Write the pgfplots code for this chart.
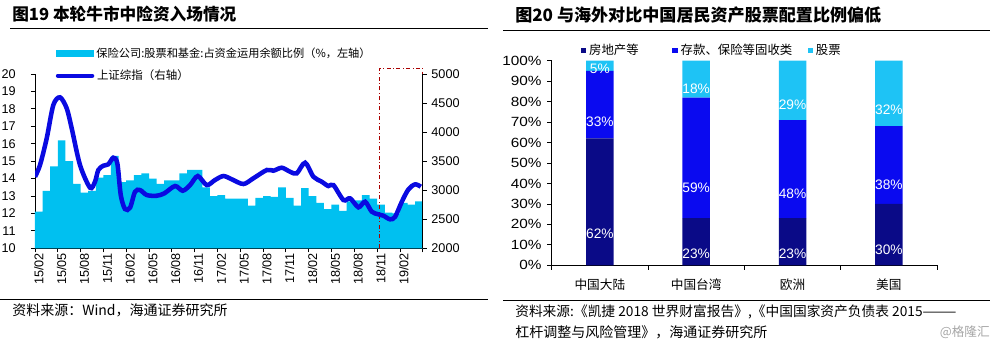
\documentclass[border=0pt]{standalone}
\usepackage{fontspec}
\setmainfont{Liberation Sans}
\newfontfamily\cjk{Noto Sans CJK SC}
\usepackage{pgfplots}
\pgfplotsset{compat=1.18}
\pgfplotsset{/pgf/number format/assume math mode=true, /pgf/number format/1000 sep={}}
\definecolor{barcyan}{RGB}{0,192,240}
\definecolor{lineblue}{RGB}{10,10,225}
\definecolor{navyb}{RGB}{10,10,135}
\definecolor{blueb}{RGB}{10,10,240}
\definecolor{cyanb}{RGB}{30,195,245}
\definecolor{dred}{RGB}{170,0,0}
\begin{document}
\begin{tikzpicture}[x=0.75pt,y=-0.75pt]
\useasboundingbox (0,0) rectangle (994,343);
% titles and rules
\node[anchor=west,inner sep=0pt] at (12,14) {\cjk\bfseries\fontsize{12.5}{14}\selectfont 图19 本轮牛市中险资入场情况};
\node[anchor=west,inner sep=0pt] at (515,15.5) {\cjk\bfseries\fontsize{12.8}{14}\selectfont 图20 与海外对比中国居民资产股票配置比例偏低};
\draw[line width=0.75pt] (10,28.3) -- (488,28.3);
\draw[line width=0.75pt] (503,30.7) -- (990,30.7);
\draw[line width=0.75pt] (0,299) -- (488,299);
\draw[line width=0.75pt] (503,300) -- (990,300);
\node[anchor=west,inner sep=0pt] at (12,310) {\cjk\fontsize{10.5}{11}\selectfont 资料来源：Wind，海通证券研究所};
\node[anchor=west,inner sep=0pt] at (515,312) {\cjk\fontsize{10.3}{11}\selectfont 资料来源:《凯捷 2018 世界财富报告》,《中国国家资产负债表 2015———};
\node[anchor=west,inner sep=0pt] at (515,332) {\cjk\fontsize{10.5}{11}\selectfont 杠杆调整与风险管理》，海通证券研究所};
\node[anchor=east,inner sep=0pt,text=black!35] at (990,332) {\cjk\fontsize{9.5}{10}\selectfont @格隆汇};

\coordinate (L) at (35,248.3);
\coordinate (R) at (551.7,265.3);

% ---------- left chart: bars ----------
\begin{axis}[
  at={(L)}, anchor=south west, scale only axis,
  width=290.8pt, height=130.7pt,
  xmin=0.5, xmax=51.5, ymin=10, ymax=20,
  clip=false,
  axis x line*=bottom, axis y line*=left,
  axis line style={line width=0.6pt},
  tick align=outside,
  major tick length=3pt,
  tick style={black, line width=0.6pt},
  ytick={10,11,...,20},
  yticklabel style={font=\fontsize{9.5}{10}\selectfont, xshift=-8pt},
  xtick={0.5,3.5,...,51.5},
  xticklabels={},
  extra x ticks={1,4,...,49},
  extra x tick labels={15/02,15/05,15/08,15/11,16/02,16/05,16/08,16/11,17/02,17/05,17/08,17/11,18/02,18/05,18/08,18/11,19/02},
  extra x tick style={major tick length=0pt},
  x tick label style={rotate=90, anchor=east, font=\fontsize{9.5}{10}\selectfont},
  legend style={at={(axis description cs:0.053,1.118)}, anchor=west, draw=none, fill=none,
    inner sep=0pt, font=\cjk\fontsize{8.4}{9}\selectfont, legend cell align=left},
]
\addplot[ybar, bar width=5.76pt, bar shift=0pt, fill=barcyan, draw=none,
  legend image code/.code={\fill[barcyan] (0pt,-2.6pt) rectangle (28.5pt,2.6pt);}]
coordinates {
(1,12.1)(2,13.3)(3,14.7)(4,16.2)(5,15.0)(6,13.7)(7,13.2)(8,13.3)(9,14.05)(10,14.2)
(11,15.3)(12,13.8)(13,13.9)(14,14.2)(15,14.3)(16,14.0)(17,13.7)(18,13.9)(19,13.9)(20,14.3)
(21,14.5)(22,14.5)(23,13.5)(24,13.0)(25,13.05)(26,12.85)(27,12.85)(28,12.85)(29,12.45)(30,12.9)
(31,13.0)(32,12.95)(33,13.5)(34,12.9)(35,12.45)(36,13.45)(37,13.0)(38,12.6)(39,12.25)(40,12.5)
(41,12.15)(42,12.7)(43,12.75)(44,13.05)(45,12.85)(46,12.5)(47,12.05)(48,12.0)(49,12.6)(50,12.5)
(51,12.7)};
\addlegendentry{保险公司:股票和基金:占资金运用余额比例（\%，左轴）}
\addplot[dred, dash dot, line width=0.8pt, forget plot] coordinates {(45.76,10)(45.76,20.33)(51.5,20.33)(51.5,10)};
\end{axis}

% ---------- left chart: index line ----------
\begin{axis}[
  at={(L)}, anchor=south west, scale only axis,
  width=290.8pt, height=130.7pt,
  xmin=0.5, xmax=51.5, ymin=2000, ymax=5000,
  axis x line=none, axis y line*=right,
  axis line style={line width=0.6pt},
  tick align=outside,
  major tick length=3pt,
  tick style={black, line width=0.6pt},
  scaled y ticks=false,
  ytick={2000,2500,...,5000},
  yticklabel style={font=\fontsize{9.5}{10}\selectfont},
  legend style={at={(axis description cs:0.053,0.99)}, anchor=west, draw=none, fill=none,
    inner sep=0pt, font=\cjk\fontsize{8.6}{9}\selectfont, legend cell align=left},
]
\addplot[lineblue, line width=3.4pt, smooth, tension=0.5,
  legend image code/.code={\draw[lineblue, line width=3.4pt, line cap=round] (1.5pt,0pt) -- (27pt,0pt);}]
coordinates {
(0.5,3232)(1.16,3434)(2.04,3893)(2.91,4466)(3.79,4599)(4.67,4410)(5.33,4065)(6.42,3434)
(7.74,3043)(8.39,3146)(8.83,3348)(9.49,3422)(10.14,3446)(10.8,3559)(11.33,3463)(11.78,2917)
(12.34,2676)(13.0,2699)(13.66,2974)(14.32,3003)(15.2,2917)(16.51,2905)(17.51,2946)(18.92,3072)
(19.93,2991)(20.9,3089)(21.91,3244)(23.09,3089)(24.18,3176)(25.28,3244)(26.38,3188)(27.91,3107)
(29.22,3205)(30.99,3348)(31.86,3336)(32.96,3387)(34.05,3318)(34.93,3291)(36.03,3473)(37.12,3232)
(38.22,3146)(39.09,3072)(39.75,3089)(41.07,2831)(41.95,2860)(43.04,2706)(43.92,2802)(44.8,2630)
(45.67,2585)(46.33,2561)(47.21,2499)(47.87,2544)(48.75,2802)(49.62,3015)(50.5,3101)(51.25,3060)};
\addlegendentry{上证综指（右轴）}
\end{axis}

% ---------- right chart ----------
\begin{axis}[
  at={(R)}, anchor=south west, scale only axis,
  width=289pt, height=153.45pt,
  ybar stacked, bar width=20.6pt,
  xmin=0.5, xmax=4.5, ymin=0, ymax=100,
  axis x line*=bottom, axis y line*=left,
  axis line style={line width=0.6pt},
  tick align=outside,
  major tick length=3.5pt,
  tick style={black, line width=0.6pt},
  ytick={0,10,...,100},
  yticklabels={0\%,10\%,20\%,30\%,40\%,50\%,60\%,70\%,80\%,90\%,100\%},
  yticklabel style={font=\fontsize{10}{11}\selectfont, xscale=1.15},
  xtick={0.5,1.5,2.5,3.5,4.5},
  xticklabels={},
  extra x ticks={1,2,3,4},
  extra x tick labels={中国大陆,中国台湾,欧洲,美国},
  extra x tick style={major tick length=0pt},
  x tick label style={font=\cjk\fontsize{9.5}{10}\selectfont, yshift=-6.5pt},
  nodes near coords={\pgfmathprintnumber{\rawy}\%},
  visualization depends on={rawy \as \rawy},
  every node near coord/.append style={anchor=center, yshift=-\rawy*0.383625pt, text=white,
    font=\fontsize{10.3}{11}\selectfont},
  legend columns=3,
  legend style={at={(axis description cs:0.075,1.05)}, anchor=west, draw=none, fill=none,
    inner sep=0pt, font=\cjk\fontsize{9.3}{10}\selectfont,
    /tikz/column 2/.style={column sep=23.3pt},
    /tikz/column 4/.style={column sep=9.5pt}},
]
\addplot[fill=navyb, draw=none, legend image code/.code={\fill[navyb] (0pt,-2.1pt) rectangle (4.2pt,2.1pt);}]
  coordinates {(1,62)(2,23)(3,23)(4,30)};
\addlegendentry{房地产等}
\addplot[fill=blueb, draw=none, legend image code/.code={\fill[blueb] (0pt,-2.1pt) rectangle (4.2pt,2.1pt);}]
  coordinates {(1,33)(2,59)(3,48)(4,38)};
\addlegendentry{存款、保险等固收类}
\addplot[fill=cyanb, draw=none, legend image code/.code={\fill[cyanb] (0pt,-2.1pt) rectangle (4.2pt,2.1pt);}]
  coordinates {(1,5)(2,18)(3,29)(4,32)};
\addlegendentry{股票}
\end{axis}
\end{tikzpicture}
\end{document}
